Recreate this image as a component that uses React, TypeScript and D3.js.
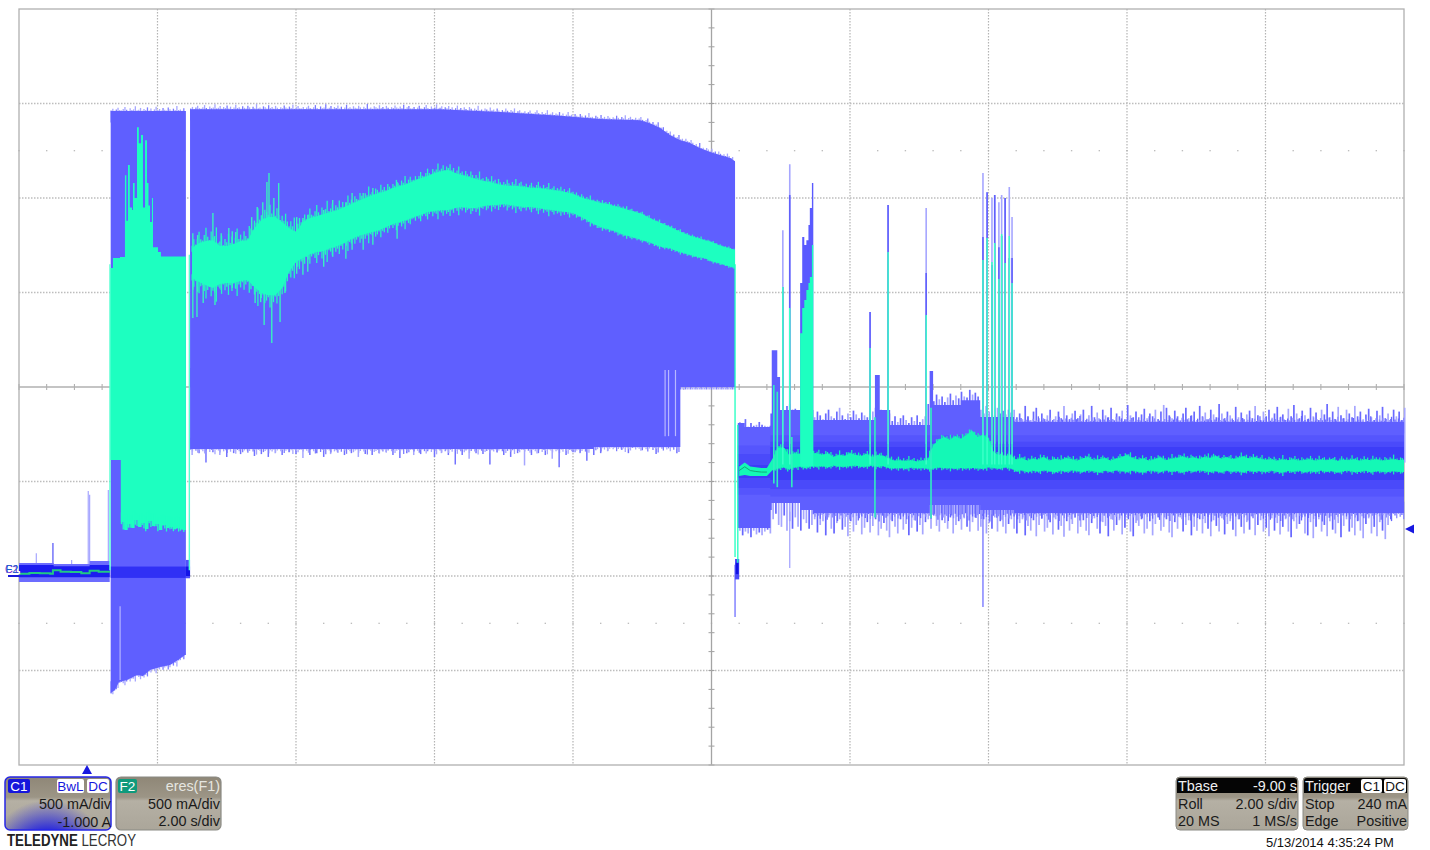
import React from "react";
import * as d3 from "d3";

// horizontal: seconds since the left edge of the 20 s record; vertical: C1 current in mA
const gridSeconds = [2, 4, 6, 8, 12, 14, 16, 18];
const gridMilliamps = [-500, 0, 500, 1500, 2000, 2500];

// before the burst
const preTime = [0, 0.5, 1.0, 1.02, 1.31];
const preTop = [69, 64, 64, 80, 80];
const preBottom = [-32, -32, -32, -32, -32];
const preCoreTop = [58, 52, 52, 58, 58];
const preCoreBottom = [-6, -6, -6, -6, -6];
const preSpikeTime = [0.25, 0.49, 0.76, 1.0, 1.02, 1.29];
const preSpikeValue = [120, 175, 85, 450, 430, 455];
const preGreenTime = [0, 0.15, 0.3, 0.45, 0.49, 0.6, 0.75, 0.9, 1.02, 1.15, 1.3];
const preGreenValue = [12, 16, 15, 12, 30, 22, 21, 14, 28, 22, 26];

// first burst
const burstTime = [1.324, 2.41];
const burstTop = [2460, 2460];
const burstLowTime = [1.324, 1.386, 1.444, 1.56, 1.704, 1.79, 1.892, 2.036, 2.18, 2.296, 2.397, 2.41];
const burstLowValue = [-619, -603, -561, -550, -524, -529, -497, -481, -471, -444, -418, -418];
const greenBurstTime = [1.314, 1.357, 1.458, 1.53, 1.55, 1.574, 1.6, 1.632, 1.646, 1.67, 1.704, 1.73, 1.762, 1.79, 1.82, 1.848, 1.87, 1.892, 1.92, 1.935, 2.007, 2.05, 2.41];
const greenBurstTop = [1629, 1682, 1688, 2121, 1880, 2174, 1950, 1936, 2079, 2000, 2375, 2290, 2333, 1950, 2306, 2079, 1960, 1873, 2000, 1740, 1714, 1690, 1688];
const greenLowTime = [1.314, 1.47, 1.52, 1.57, 1.62, 1.67, 1.72, 1.77, 1.82, 1.87, 1.92, 1.97, 2.02, 2.07, 2.12, 2.17, 2.22, 2.27, 2.32, 2.37, 2.41];
const greenLowValue = [614, 286, 243, 275, 254, 296, 259, 280, 249, 291, 265, 275, 243, 270, 254, 259, 249, 254, 249, 243, 243];

// the long burst
const longTopTime = [2.47, 5.5, 6.08, 6.95, 7.81, 8.39, 8.97, 9.11, 9.26, 9.4, 9.55, 9.69, 9.83, 9.98, 10.12, 10.27, 10.34];
const longTopValue = [2470, 2470, 2470, 2455, 2435, 2418, 2412, 2396, 2370, 2333, 2306, 2291, 2264, 2243, 2227, 2211, 2195];
const longLowTime = [2.47, 8.1, 8.3, 9.55, 10.34];
const longLowValue = [672, 672, 682, 1047, 1047];
const longTipLow = [640, 650, 600, 655, 640, 630, 650, 645, 660, 635, 645, 630, 650, 640, 655, 645, 625, 640, 650, 630, 645, 655, 640, 650, 630, 645, 640, 650, 655, 640, 625, 650, 640, 645, 660, 630, 650, 640, 590, 640, 620, 650, 645, 590, 655, 640, 630, 650, 585, 640, 650, 640, 620, 575, 640, 655, 650, 610, 640, 650, 660, 690, 670, 650, 700, 665, 690, 645, 675, 690, 650];
const longGapTime = [9.33, 9.38, 9.48];
const longGapLow = [740, 740, 740];
const greenLongTime = [2.5, 2.6, 2.7, 2.8, 2.9, 3.0, 3.1, 3.2, 3.3, 3.4, 3.5, 3.6, 3.7, 3.8, 3.9, 4.0, 4.1, 4.2, 4.3, 4.4, 4.5, 4.6, 4.7, 4.8, 4.9, 5.0, 5.1, 5.2, 5.3, 5.4, 5.5, 5.6, 5.7, 5.8, 5.9, 6.0, 6.1, 6.2, 6.3, 6.4, 6.5, 6.6, 6.7, 6.8, 6.9, 7.0, 7.1, 7.2, 7.3, 7.4, 7.5, 7.6, 7.7, 7.8, 7.9, 8.0, 8.1, 8.2, 8.3, 8.4, 8.5, 8.6, 8.7, 8.8, 8.9, 9.0, 9.1, 9.2, 9.3, 9.4, 9.5, 9.6, 9.7, 9.8, 9.9, 10.0, 10.1, 10.2, 10.34];
const greenLongTop = [1735, 1762, 1772, 1777, 1746, 1746, 1756, 1772, 1777, 1841, 1883, 1899, 1899, 1873, 1841, 1820, 1873, 1894, 1904, 1915, 1926, 1936, 1952, 1968, 1984, 2000, 2015, 2026, 2037, 2053, 2063, 2074, 2090, 2105, 2116, 2132, 2142, 2148, 2132, 2121, 2111, 2100, 2090, 2084, 2074, 2068, 2063, 2063, 2058, 2053, 2053, 2047, 2042, 2037, 2031, 2021, 2005, 1994, 1984, 1973, 1968, 1957, 1947, 1936, 1926, 1915, 1894, 1878, 1862, 1846, 1830, 1814, 1799, 1788, 1777, 1767, 1751, 1740, 1725];
const greenLongLow = [1576, 1555, 1539, 1524, 1545, 1550, 1550, 1561, 1566, 1529, 1497, 1486, 1486, 1524, 1608, 1661, 1682, 1703, 1714, 1719, 1735, 1746, 1762, 1783, 1799, 1809, 1820, 1830, 1846, 1862, 1873, 1883, 1899, 1910, 1926, 1931, 1936, 1936, 1947, 1952, 1947, 1947, 1957, 1963, 1963, 1968, 1963, 1957, 1952, 1952, 1947, 1941, 1936, 1931, 1926, 1920, 1904, 1883, 1862, 1846, 1836, 1825, 1809, 1799, 1788, 1777, 1767, 1751, 1740, 1735, 1719, 1709, 1698, 1688, 1682, 1666, 1656, 1645, 1629];
const greenUpTime = [2.51, 2.58, 2.8, 3.03, 3.13, 3.36, 3.44, 3.52, 3.58, 3.61, 3.68, 3.75, 4.01, 4.1, 4.17, 4.4, 4.53, 4.72, 4.81, 4.97, 5.11, 5.46];
const greenUpValue = [1814, 1804, 1920, 1841, 1820, 1899, 1952, 1978, 2084, 2132, 2000, 2079, 1899, 1894, 1910, 1936, 1989, 1978, 2026, 2026, 2053, 2084];
const greenDownTime = [2.51, 2.57, 2.66, 2.83, 2.92, 3.08, 3.41, 3.49, 3.54, 3.65, 3.77, 3.84];
const greenDownValue = [1365, 1370, 1444, 1434, 1513, 1524, 1444, 1449, 1328, 1233, 1344, 1497];
// the noise read along the trace edges, in mA
const edgeNoise = [12, 40, 5, 28, 60, 18, 8, 35, 72, 22, 3, 48, 15, 30, 85, 10, 25, 55, 6, 38, 20, 65, 12, 44, 2, 30, 78, 16, 36, 8, 52, 24, 10, 62, 32, 4, 42, 18, 90, 14, 28, 6, 50, 34, 12, 70, 20, 40, 8, 58, 26, 4, 36, 16, 66, 30, 10, 46, 22, 80, 6, 34, 54, 14];

// after the burst
const postTime = [10.38, 10.48, 10.85, 10.87, 10.9, 10.95, 10.99, 11.28, 11.47, 12.29, 12.36, 12.43, 12.58, 13.08, 13.15, 13.2, 13.6, 13.88, 14.37, 20];
const postTop = [809, 788, 860, 1195, 1195, 1053, 878, 878, 825, 825, 1063, 878, 799, 799, 1084, 905, 930, 841, 815, 815];
const postBottom = [254, 254, 349, 386, 386, 386, 386, 349, 333, 333, 333, 333, 333, 333, 376, 376, 376, 349, 333, 333];
const bandTime = [10.38, 10.85, 20];
const bandWideTop = [690, 745, 745];
const bandWideLow = [430, 420, 420];
const bandOuterTop = [645, 710, 710];
const bandOuterLow = [465, 460, 460];
const bandInnerTop = [587, 682, 682];
const bandInnerLow = [518, 508, 508];
const tipsStart = 10.41;
const tipsStep = 0.04;
const postTipTop = [815, 800, 830, 790, 810, 795, 800, 815, 800, 795, 790, 795, 900, 880, 890, 870, 860, 900, 910, 880, 885, 870, 895, 905, 870, 880, 860, 840, 870, 850, 830, 860, 880, 845, 835, 870, 890, 850, 830, 860, 840, 875, 855, 835, 865, 850, 840, 860, 870, 890, 860, 880, 850, 830, 860, 820, 845, 815, 835, 850, 825, 810, 840, 820, 850, 815, 830, 845, 910, 940, 925, 960, 935, 950, 920, 945, 965, 930, 955, 940, 975, 950, 945, 985, 960, 970, 950, 880, 860, 900, 870, 880, 850, 890, 860, 875, 855, 880, 865,
  880, 840, 860, 830, 900, 845, 825, 870, 890, 835, 860, 830, 850, 880, 825, 845, 870, 835, 900, 850, 830, 860, 875, 835, 855, 880, 825, 850, 900, 840, 865, 830, 880, 850, 840, 890, 825, 860, 845, 875, 830, 905, 850, 840, 870, 825, 855, 885, 835, 860, 845, 880, 830, 870, 905, 890, 850, 835, 875, 845, 825, 860, 890, 835, 850, 870, 825, 900, 845, 865, 830, 880, 855, 840, 910, 860, 835, 870, 850, 825, 895, 840, 865, 830, 855, 875, 835, 900, 850, 825, 870, 845, 880, 830, 860, 895, 840, 855, 825, 885, 845, 905, 860, 835, 875, 850, 830, 890, 845, 865, 825, 880, 855, 910, 840, 870, 830, 895, 850, 835, 880, 860, 840, 900, 845, 870, 830, 855, 885, 840, 825, 875, 850, 895, 835, 860, 830, 880, 845, 870, 825, 890];
const postTipLow = [240, 215, 235, 225, 205, 240, 220, 230, 215, 235, 245, 225, 300, 330, 270, 260, 320, 240, 290, 250, 310, 260, 240, 300, 280, 250, 270, 300, 230, 270, 290, 215, 310, 250, 225, 280, 300, 245, 260, 210, 290, 235, 270, 305, 220, 255, 285, 230, 265, 300, 215, 250, 280, 240, 205, 290, 260, 225, 300, 245, 275, 215, 255, 295, 235, 270, 220, 285, 300, 250, 320, 265, 235, 295, 280, 250, 310, 225, 270, 290, 245, 305, 260, 235, 285, 310, 240, 260, 300, 225, 280, 250, 310, 235, 290, 260, 225, 275, 300,
  250, 225, 280, 300, 215, 265, 240, 295, 210, 270, 305, 235, 255, 285, 220, 300, 245, 265, 208, 290, 240, 275, 310, 225, 260, 295, 240, 215, 280, 305, 250, 225, 285, 265, 210, 300, 240, 270, 295, 220, 255, 305, 235, 210, 280, 265, 300, 225, 250, 290, 215, 275, 310, 240, 260, 300, 230, 205, 285, 250, 310, 235, 270, 295, 215, 260, 240, 300, 225, 280, 250, 210, 295, 265, 235, 305, 220, 275, 290, 245, 210, 300, 260, 225, 285, 245, 315, 215, 270, 295, 235, 255, 210, 305, 240, 280, 220, 260, 300, 235, 205, 290, 250, 275, 310, 225, 215, 285, 200, 260, 300, 235, 270, 210, 290, 245, 225, 280, 205, 265, 300, 235, 255, 215, 290, 240, 200, 275, 305, 225, 260, 210, 285, 240, 195, 270, 300];
const greenPostStart = 10.4;
const greenPostStep = 0.08;
const greenPostTop = [580, 600, 580, 575, 572, 572, 620, 680, 680, 640, 650, 645, 655, 650, 650, 640, 650, 630, 640, 635, 650, 640, 635, 645, 630, 640, 635, 620, 610, 612, 608, 612, 606, 610, 612, 690, 720, 735, 720, 740, 725, 745, 770, 735, 745, 730, 650, 640, 635, 640, 615, 625, 610, 620, 615, 630, 610, 620, 612, 625, 618, 610, 622, 630, 612, 618, 625, 610, 620, 628, 640, 625, 615, 622, 610, 618, 628, 612, 620, 625, 632, 622, 628, 618, 630, 625, 635, 620, 628, 618, 625, 632, 622, 628, 620, 614, 618, 610, 616, 612, 618, 610, 614, 618, 610, 616, 612, 618, 608, 616, 612, 618, 610, 616, 612, 618, 610, 614, 618, 612, 616];
const greenPostLow = [529, 535, 529, 529, 529, 529, 560, 570, 575, 565, 575, 580, 570, 582, 578, 582, 575, 585, 580, 578, 582, 585, 578, 580, 585, 578, 582, 572, 570, 572, 568, 574, 570, 572, 568, 568, 575, 570, 572, 568, 572, 570, 572, 570, 568, 575, 572, 568, 575, 570, 555, 560, 550, 558, 552, 560, 555, 548, 558, 552, 560, 555, 550, 560, 554, 548, 558, 552, 560, 556, 550, 558, 552, 548, 558, 555, 550, 560, 552, 556, 548, 558, 552, 560, 555, 550, 556, 548, 558, 552, 555, 548, 558, 552, 556, 550, 558, 552, 546, 556, 552, 558, 548, 555, 550, 558, 552, 556, 548, 554, 558, 550, 552, 558, 548, 556, 552, 550, 556, 552, 550];

// burst columns after the long burst
const spikeTime = [11.03, 11.13, 12.29, 12.55, 13.1, 13.92, 13.98, 14.05, 14.09, 14.15, 14.19, 14.24, 14.3, 14.34];
const spikeLight = [1830, 2179, 1397, 1963, 1947, 2132, 2031, 2000, 2016, 1978, 2016, 2000, 2058, 1899];
const spikeDark = [1529, 2016, 1397, 1963, 1603, 1793, 2031, 1645, 2016, 1740, 1800, 2000, 1682, 1682];
const spikeGreen = [1529, 1418, 1206, 1714, 1381, 1672, 1788, 1661, 1762, 1571, 1809, 1656, 1799, 1550];
const blockTime = [11.28, 11.31, 11.34, 11.37, 11.4, 11.42, 11.45, 11.47];
const blockBlue = [1550, 1793, 1751, 1777, 1857, 1947, 2079, 2079];
const blockGreen = [1285, 1418, 1460, 1513, 1550, 1582, 1751, 1751];
const greenStubTime = [10.9, 10.95, 11.16, 12.36, 13.17];
const greenStubTop = [1010, 975, 735, 840, 890];
const greenStubLow = [490, 470, 470, 310, 305];
const dropTime = [10.34, 11.13, 13.92];
const dropValue = [-217, 42, -164];

const W = 1430, H = 850;
const x = d3.scaleLinear().domain([0, 20]).range([19, 1404]);
const y = d3.scaleLinear().domain([-1000, 3000]).range([765, 9]);
const BLUE = "#5f5fff", LIGHT = "#a6a6ff", GREEN = "#1dffc0", DARK = "#3d3df7", MID = "#4a4afa", SOFT = "#5555fd";

function band(t: number[], top: number[] | number, low: number[] | number, curve: d3.CurveFactory = d3.curveStepAfter) {
  const a = d3.area<number>()
    .x((d) => x(d))
    .y0((_, i) => y(typeof low === "number" ? low : low[i]))
    .y1((_, i) => y(typeof top === "number" ? top : top[i]))
    .curve(curve);
  return a(t) || "";
}
const seq = (start: number, step: number, n: number) => d3.range(n).map((i) => start + i * step);

function VLines({ t, a, b, color, w = 1.3 }: { t: number[]; a: number[] | number; b: number[] | number; color: string | ((i: number) => string); w?: number }) {
  return (
    <g>
      {t.map((v, i) => (
        <line key={i} x1={x(v)} x2={x(v)} y1={y(typeof a === "number" ? a : a[i])} y2={y(typeof b === "number" ? b : b[i])}
          stroke={typeof color === "string" ? color : color(i)} strokeWidth={w} />
      ))}
    </g>
  );
}

// edge noise drawn along a trace boundary: env(t) is the boundary, dir +1 goes up, -1 goes down
function Edge({ from, to, env, dir, amp, color, back = 60, w = 1.3 }: { from: number; to: number; env: (t: number) => number; dir: number; amp: (t: number) => number; color: string | ((i: number) => string); back?: number; w?: number }) {
  const t = d3.range(from, to, 0.025);
  return (
    <VLines t={t} a={t.map((v, i) => env(v) + dir * amp(v) * edgeNoise[i % edgeNoise.length])}
      b={t.map((v) => env(v) - dir * back)} color={color} w={w} />
  );
}

function Txt({ x: px, y: py, a, c = "#1a1a1a", s = 14.4, children, ...rest }: any) {
  return <text x={px} y={py} textAnchor={a || "start"} fill={c} fontSize={s} fontFamily="'Liberation Sans', Arial, sans-serif" {...rest}>{children}</text>;
}
function Badge({ x: px, w, label, fill, color, yy = 779 }: any) {
  return (
    <g>
      <rect x={px} y={yy} width={w} height={14} rx={2} fill={fill} />
      <Txt x={px + w / 2} y={yy + 12} a="middle" c={color} s={13.5}>{label}</Txt>
    </g>
  );
}

export default function App() {
  const tipT = seq(tipsStart, tipsStep, postTipTop.length);
  const tipL = seq(tipsStart, tipsStep, postTipLow.length);
  const gT = seq(greenPostStart, greenPostStep, greenPostTop.length);
  const longLowT = seq(2.5, 0.1, longTipLow.length);
  const minorX = d3.range(0, 20.001, 0.4);
  const minorY = d3.range(-1000, 3000.1, 100);

  const greenTopAt = d3.scaleLinear().domain(greenLongTime).range(greenLongTop);
  const greenLowAt = d3.scaleLinear().domain(greenLongTime).range(greenLongLow);
  const greenAmp = d3.scaleLinear().domain([2.5, 4, 5, 7.5, 8.3, 10.3]).range([1.0, 0.9, 0.6, 0.45, 0.25, 0.12]);
  const postTopAt = d3.scaleLinear().domain(gT).range(greenPostTop);
  const postLowAt = d3.scaleLinear().domain(gT).range(greenPostLow);
  const longTopAt = d3.scaleLinear().domain(longTopTime).range(longTopValue);
  const burstLowAt = d3.scaleLinear().domain(burstLowTime).range(burstLowValue);
  const greenLowEdgeAt = d3.scaleLinear().domain(greenLowTime).range(greenLowValue);
  const shade = (i: number) => (i % 3 === 0 ? "#7c7cff" : LIGHT);
  const shadeDark = (i: number) => (i % 2 === 0 ? "#6666ff" : "#8a8aff");

  return (
    <svg width={W} height={H} viewBox={`0 0 ${W} ${H}`} style={{ position: "fixed", left: 0, top: 0, background: "#fff" }}>
      <defs>
        <linearGradient id="tan" x1="0" y1="0" x2="0" y2="1">
          <stop offset="0" stopColor="#8f8777" />
          <stop offset="0.38" stopColor="#9c9586" />
          <stop offset="0.45" stopColor="#b5b0a4" />
          <stop offset="1" stopColor="#aba69a" />
        </linearGradient>
        <radialGradient id="c1blue" gradientUnits="userSpaceOnUse" cx="48" cy="862" r="62">
          <stop offset="0" stopColor="#1414e0" stopOpacity="1" />
          <stop offset="0.5" stopColor="#2020e0" stopOpacity="0.95" />
          <stop offset="1" stopColor="#3030e0" stopOpacity="0" />
        </radialGradient>
      </defs>

      {/* graticule */}
      <g>
        {gridSeconds.map((s) => (
          <line key={s} x1={x(s)} x2={x(s)} y1={y(3000)} y2={y(-1000)} stroke="#b4b4b4" strokeWidth={1.2} strokeDasharray="1.5 1.5" />
        ))}
        {gridMilliamps.map((m) => (
          <line key={m} x1={x(0)} x2={x(20)} y1={y(m)} y2={y(m)} stroke="#bdbdbd" strokeWidth={1.4} strokeDasharray="1.5 1.5" />
        ))}
        {minorX.map((s) => [2250, -250].map((m) => (
          <rect key={`${s}_${m}`} x={x(s) - 0.7} y={y(m) - 0.5} width={1.4} height={1} fill="#a8a8a8" />
        )))}
        {minorX.map((s) => (
          <line key={s} x1={x(s)} x2={x(s)} y1={y(1000) - 3} y2={y(1000) + 3} stroke="#a8a8a8" strokeWidth={1} />
        ))}
        {minorY.map((m) => (
          <line key={m} x1={x(10) - 3} x2={x(10) + 3} y1={y(m)} y2={y(m)} stroke="#a0a0a0" strokeWidth={1} />
        ))}
        <line x1={x(10)} x2={x(10)} y1={y(3000)} y2={y(-1000)} stroke="#a4a4a4" strokeWidth={1.3} />
        <line x1={x(0)} x2={x(20)} y1={y(1000)} y2={y(1000)} stroke="#b0b0b0" strokeWidth={1.3} />
        <rect x={x(0)} y={y(3000)} width={x(20) - x(0)} height={y(-1000) - y(3000)} fill="none" stroke="#b0b0b0" strokeWidth={1.3} />
      </g>

      {/* before the burst */}
      <VLines t={preSpikeTime} a={preSpikeValue} b={40} color={(i) => (i === 1 ? "#5050f8" : LIGHT)} w={1.2} />
      <path d={band(preTime, preTop, preBottom)} fill="#6c6cff" />
      <path d={band(preTime, preCoreTop, preCoreBottom)} fill="#1c1cf0" />
      <path d={d3.line<number>().x((d) => x(d)).y((_, i) => y(preGreenValue[i])).curve(d3.curveStepAfter)(preGreenTime) || ""} fill="none" stroke="#22c884" strokeWidth={2} />

      {/* first burst */}
      <Edge from={1.33} to={2.4} env={() => 2460} dir={1} amp={() => 0.3} color={shade} />
      <Edge from={1.33} to={2.39} env={(t) => burstLowAt(t)} dir={-1} amp={() => 0.35} color={shade} />
      <path d={band(burstTime, burstTop, 0)} fill={BLUE} />
      <path d={band(burstLowTime, 0, burstLowValue, d3.curveLinear)} fill={BLUE} />
      <rect x={x(1.324)} y={y(50)} width={x(2.41) - x(1.324)} height={y(-10) - y(50)} fill="#3030f5" />
      <line x1={x(1.46)} x2={x(1.46)} y1={y(-160)} y2={y(-550)} stroke="#b4b4ff" strokeWidth={1.2} />
      <rect x={x(2.41)} y={y(85)} width={x(2.47) - x(2.41)} height={y(-12) - y(85)} fill="#5050fb" />
      <rect x={x(2.41)} y={y(50)} width={x(2.47) - x(2.41)} height={y(0) - y(50)} fill="#1414e8" />

      {/* long burst */}
      <Edge from={2.48} to={10.33} env={(t) => longTopAt(t)} dir={1} amp={() => 0.3} color={shade} />
      <VLines t={longLowT} a={longTipLow} b={1000} color={(i) => (i % 4 === 0 ? LIGHT : "#7272ff")} w={1.5} />
      <Edge from={2.48} to={9.55} env={(t) => (t < 8.2 ? 672 : 682)} dir={-1} amp={() => 0.33} color={shade} />
      <Edge from={9.55} to={10.33} env={() => 1047} dir={-1} amp={() => 0.3} color={shade} back={-60} />
      <path d={band(longTopTime, longTopValue, 1000, d3.curveLinear)} fill={BLUE} />
      <path d={band(longLowTime, 1100, longLowValue)} fill={BLUE} />
      <VLines t={longGapTime} a={1090} b={longGapLow} color="#b8b8ff" w={1.2} />

      {/* after the long burst: envelope and persistence bands */}
      <VLines t={tipT} a={postTipTop} b={600} color={(i) => (i % 3 === 0 ? LIGHT : "#6a6aff")} w={1.7} />
      <VLines t={tipL} a={postTipLow} b={600} color={(i) => (i % 3 === 1 ? "#6666ff" : LIGHT)} w={1.7} />
      <Edge from={14.37} to={20} env={() => 815} dir={1} amp={() => 0.35} color={shadeDark} />
      <Edge from={11.47} to={20} env={() => 333} dir={-1} amp={() => 0.5} color={shadeDark} />
      <path d={band(postTime, postTop, postBottom)} fill={BLUE} />
      <path d={band(bandTime, bandWideTop, bandWideLow)} fill={SOFT} />
      <path d={band(bandTime, bandOuterTop, bandOuterLow)} fill={MID} />
      <path d={band(bandTime, bandInnerTop, bandInnerLow)} fill={DARK} />
      <VLines t={dropTime} a={dropValue} b={[60, 340, 330]} color={(i) => (i === 1 ? "#a0a0ff" : "#6464ff")} w={1.2} />
      <rect x={x(10.34)} y={y(90)} width={x(10.4) - x(10.34)} height={y(-18) - y(90)} fill="#4a4afa" />
      <rect x={x(10.35)} y={y(70)} width={x(10.39) - x(10.35)} height={y(10) - y(70)} fill="#1010e0" />

      {/* column spikes */}
      <VLines t={spikeTime} a={spikeLight} b={700} color={LIGHT} w={1.6} />
      <VLines t={spikeTime} a={spikeDark} b={700} color="#6060fc" w={1.6} />
      <path d={band(blockTime, blockBlue, 600)} fill="#5a5aff" />

      {/* F2: green */}
      <path d={band(greenBurstTime, greenBurstTop, 1000)} fill={GREEN} />
      <path d={band(greenLowTime, 1010, greenLowValue)} fill={GREEN} />
      <Edge from={1.48} to={2.4} env={(t) => greenLowEdgeAt(t)} dir={-1} amp={() => 0.25} color={GREEN} />
      <VLines t={[1.314, 2.46]} a={[1650, 1700]} b={[30, 30]} color="#56ffd2" w={1.4} />

      <VLines t={greenUpTime} a={greenUpValue} b={greenUpValue.map((v) => v - 300)} color="#38f0c0" w={1.4} />
      <VLines t={greenDownTime} a={greenDownValue} b={greenDownValue.map((v) => v + 300)} color="#38f0c0" w={1.4} />
      <Edge from={2.5} to={10.33} env={(t) => greenTopAt(t)} dir={1} amp={(t) => greenAmp(t)} color="#22f8c0" back={20} />
      <Edge from={2.5} to={10.33} env={(t) => greenLowAt(t)} dir={-1} amp={(t) => greenAmp(t)} color="#22f8c0" back={20} />
      <path d={band(greenLongTime, greenLongTop, greenLongLow, d3.curveLinear)} fill={GREEN} />

      <VLines t={[10.34, 10.38]} a={[1650, 800]} b={[100, 70]} color={GREEN} w={1.3} />
      <Edge from={10.9} to={20} env={(t) => postTopAt(t)} dir={1} amp={() => 0.28} color="#14f0b4" back={15} />
      <Edge from={10.9} to={20} env={(t) => postLowAt(t)} dir={-1} amp={() => 0.2} color="#14f0b4" back={15} />
      <path d={band(gT, greenPostTop, greenPostLow, d3.curveLinear)} fill="#14f8b6" />
      <path d={band(blockTime, blockGreen, 580)} fill={GREEN} />
      <VLines t={spikeTime} a={spikeGreen} b={590} color="#3cffc8" w={1.5} />
      <VLines t={greenStubTime} a={greenStubTop} b={greenStubLow} color="#30f0c0" w={1.6} />
      <path d={d3.line<number>().x((d) => x(d)).y((_, i) => y(greenPostTop[i] - 22)).curve(d3.curveLinear)(gT.slice(0, 6)) || ""} fill="none" stroke="#12a878" strokeWidth={1} />

      {/* markers */}
      <path d={`M${x(20) + 1},529 l9,-4.5 v9 z`} fill="#1818e0" />
      <path d="M87,765 l-5,9 h10 z" fill="#1818e0" />
      <path d="M8,576 H19" stroke="#1818d8" strokeWidth={2} />
      <Txt x={5} y={573} s={11} c="#7a2ad0" stroke="#fff" strokeWidth={2.5} paintOrder="stroke">C1</Txt>
      <Txt x={5.5} y={573} s={11} c="#1a60d0">F2</Txt>

      {/* C1 panel */}
      <rect x={5} y={777} width={106} height={53} rx={5} fill="url(#tan)" />
      <clipPath id="c1clip"><rect x={5} y={777} width={106} height={53} rx={5} /></clipPath>
      <rect x={5} y={777} width={106} height={53} fill="url(#c1blue)" clipPath="url(#c1clip)" />
      <rect x={5} y={777} width={106} height={53} rx={5} fill="none" stroke="#2626e6" strokeWidth={1.5} />
      <Badge x={8} w={22} label="C1" fill="#1616dc" color="#ffffff" />
      <Badge x={57} w={27} label="BwL" fill="#ffffff" color="#1616dc" />
      <Badge x={87} w={22} label="DC" fill="#ffffff" color="#1616dc" />
      <Txt x={111} y={809} a="end">500 mA/div</Txt>
      <Txt x={111} y={827} a="end">-1.000 A</Txt>

      {/* F2 panel */}
      <rect x={116} y={777} width={105} height={53} rx={5} fill="url(#tan)" stroke="#8a8a84" strokeWidth={1.2} />
      <Badge x={118} w={19} label="F2" fill="#0e9a7c" color="#ffffff" />
      <Txt x={220} y={791} a="end" c="#e6e6e0">eres(F1)</Txt>
      <Txt x={220} y={809} a="end">500 mA/div</Txt>
      <Txt x={220} y={826} a="end">2.00 s/div</Txt>

      <Txt x={7} y={846} s={17} c="#222" textLength={129} lengthAdjust="spacingAndGlyphs"><tspan fontWeight={700}>TELEDYNE</tspan> <tspan fill="#333">LECROY</tspan></Txt>

      {/* Tbase panel */}
      <rect x={1176} y={777} width={122} height={53} rx={4} fill="url(#tan)" stroke="#8a8a84" />
      <path d="M1177,793 V781 Q1177,778 1180,778 H1294 Q1297,778 1297,781 V793 Z" fill="#050505" />
      <Txt x={1178} y={791} c="#f0f0f0">Tbase</Txt>
      <Txt x={1297} y={791} a="end" c="#f0f0f0">-9.00 s</Txt>
      <Txt x={1178} y={809}>Roll</Txt>
      <Txt x={1297} y={809} a="end">2.00 s/div</Txt>
      <Txt x={1178} y={826}>20 MS</Txt>
      <Txt x={1297} y={826} a="end">1 MS/s</Txt>

      {/* Trigger panel */}
      <rect x={1303} y={777} width={105} height={53} rx={4} fill="url(#tan)" stroke="#8a8a84" />
      <path d="M1304,793 V781 Q1304,778 1307,778 H1404 Q1407,778 1407,781 V793 Z" fill="#050505" />
      <Txt x={1305} y={791} c="#f0f0f0">Trigger</Txt>
      <Badge x={1361} w={21} label="C1" fill="#ffffff" color="#111" yy={779} />
      <Badge x={1384} w={22} label="DC" fill="#ffffff" color="#111" yy={779} />
      <Txt x={1305} y={809}>Stop</Txt>
      <Txt x={1407} y={809} a="end">240 mA</Txt>
      <Txt x={1305} y={826}>Edge</Txt>
      <Txt x={1407} y={826} a="end">Positive</Txt>

      <Txt x={1266} y={847} s={13} c="#111">5/13/2014 4:35:24 PM</Txt>
    </svg>
  );
}
